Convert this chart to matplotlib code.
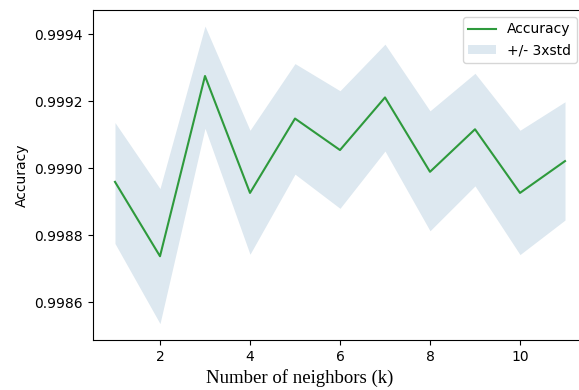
import numpy as np
import matplotlib
matplotlib.use("Agg")
import matplotlib.pyplot as plt

# accuracy per k
k_values = np.arange(1, 12)
mean_acc = [0.998959, 0.998737, 0.999275, 0.998926, 0.999148, 0.999054,
            0.999211, 0.998989, 0.999116, 0.998926, 0.999021]
upper = [0.999136, 0.998939, 0.999424, 0.999113, 0.999312, 0.999231,
         0.999370, 0.999171, 0.999283, 0.999113, 0.999198]
lower = [0.998775, 0.998536, 0.999119, 0.998743, 0.998982, 0.998880,
         0.999051, 0.998813, 0.998947, 0.998742, 0.998845]

fig = plt.figure(figsize=(5.79, 3.9), dpi=100)
# axes runs a bit past the right edge, like the cropped original
ax = fig.add_axes([92.5 / 579, 1 - 340 / 390, 495 / 579, 330 / 390])

ax.plot(k_values, mean_acc, color='#2e9a3c', linewidth=1.5)
ax.fill_between(k_values, lower, upper, color='#dde8f0', linewidth=0)
leg = ax.legend(('Accuracy', '+/- 3xstd'), loc='upper right', fontsize=10,
                bbox_to_anchor=(0.9927, 1.0))

ax.set_xlim(0.5, 11.5)
ax.set_ylim(0.998487, 0.999472)
ax.set_xticks([2, 4, 6, 8, 10])
ax.set_yticks([0.9986, 0.9988, 0.9990, 0.9992, 0.9994])
ax.set_yticklabels(['0.9986', '0.9988', '0.9990', '0.9992', '0.9994'])
ax.tick_params(labelsize=10)
ax.set_ylabel('Accuracy', fontsize=10)
ax.set_xlabel('Number of neighbors (k)', fontsize=13.5, family='Liberation Serif', labelpad=2)
ax.xaxis.set_label_coords(0.419, -0.088)

fig.savefig('out.png', dpi=100)
